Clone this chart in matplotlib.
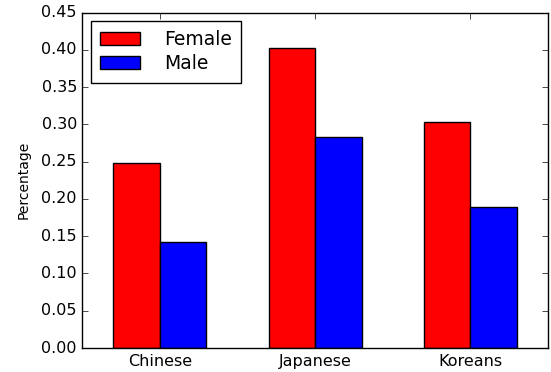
import matplotlib
matplotlib.use("Agg")
import matplotlib.pyplot as plt
import numpy as np

plt.style.use('classic')

categories = ["Chinese", "Japanese", "Koreans"]
female = [0.248, 0.402, 0.303]
male = [0.142, 0.283, 0.189]

fig = plt.figure(figsize=(5.51, 3.72), dpi=100, facecolor='white')
ax = fig.add_axes([0.1497, 0.0645, 0.8440, 0.9015])
x = np.arange(len(categories))
w = 0.3
ax.bar(x - w/2, female, w, color='r', edgecolor='k', label='Female', align='center')
ax.bar(x + w/2, male, w, color='b', edgecolor='k', label='Male', align='center')
ax.set_xlim(-0.5, 2.5)
ax.set_ylim(0, 0.45)
ax.set_yticks(np.arange(0, 0.451, 0.05))
ax.set_xticks(x)
ax.set_xticklabels(categories)
ax.tick_params(labelsize=11.5)
ax.set_ylabel('Percentage', fontsize=10, labelpad=8)
ax.legend(loc='upper left', fontsize=13.5, labelspacing=0.25, handletextpad=1.3,
          borderpad=0.5, borderaxespad=0.45, handlelength=2.1)
fig.savefig('out.png', dpi=100, facecolor='white')
